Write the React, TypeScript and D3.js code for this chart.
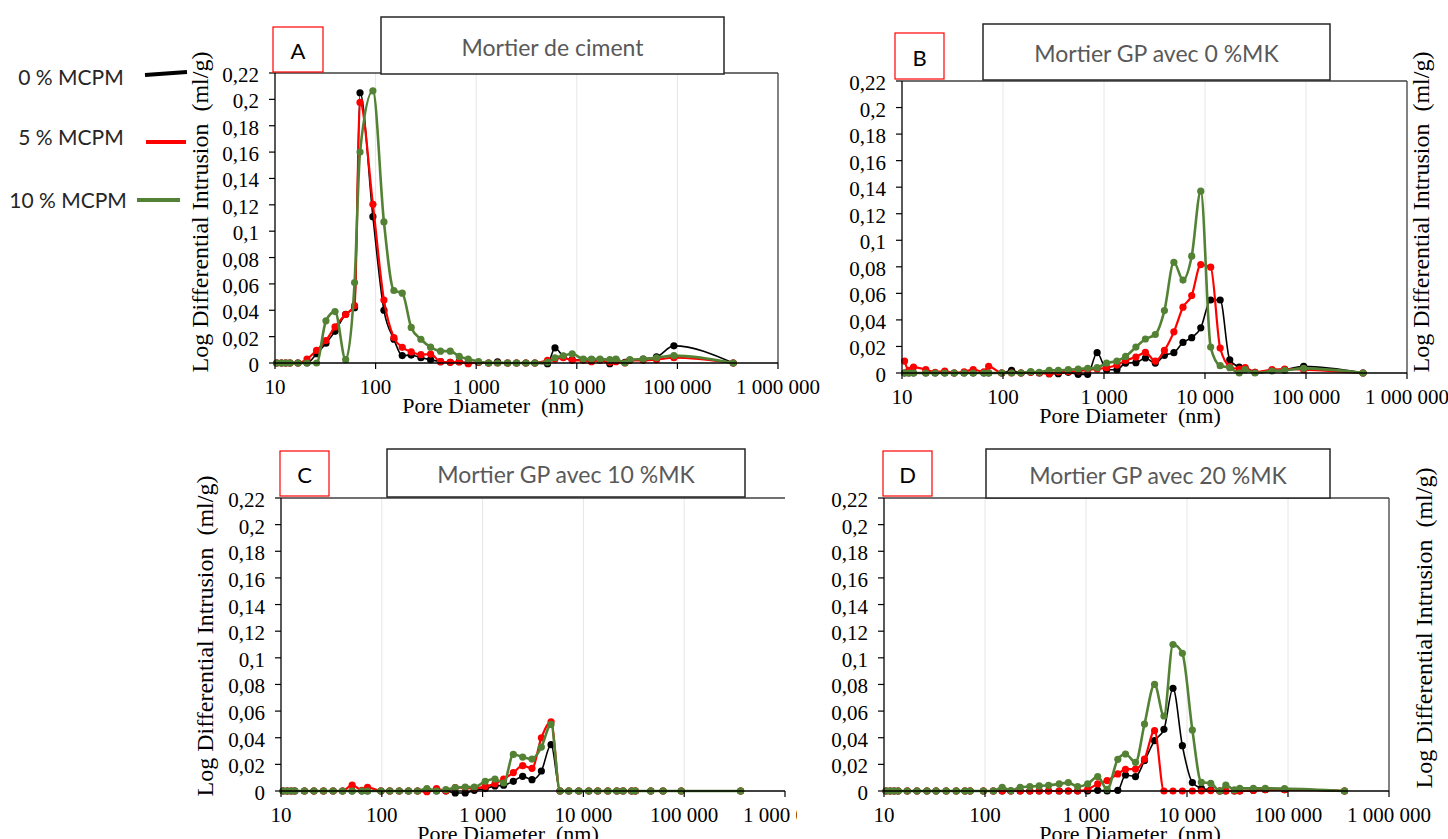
import React from "react";
import * as d3 from "d3";

// ---------- DATA ----------
const SERIES_NAMES = ["0 % MCPM", "5 % MCPM", "10 % MCPM"];
const SERIES_COLORS = ["#000000", "#ff0000", "#548235"];

const Y_TICKS = [0, 0.02, 0.04, 0.06, 0.08, 0.1, 0.12, 0.14, 0.16, 0.18, 0.2, 0.22];
const X_TICKS = [10, 100, 1000, 10000, 100000, 1000000];
const X_TICK_LABELS = ["10", "100", "1 000", "10 000", "100 000", "1 000 000"];

const PANEL_LETTERS = ["A", "B", "C", "D"];
const PANEL_TITLES = ["Mortier de ciment", "Mortier GP avec 0 %MK", "Mortier GP avec 10 %MK", "Mortier GP avec 20 %MK"];
const Y_TITLE = "Log Differential Intrusion  (ml/g)";
const X_TITLE = "Pore Diameter  (nm)";

// Panel A – Mortier de ciment
const A_DIAM = [10.4, 11.6, 12.8, 14.1, 16.9, 20.8, 25.9, 32.1, 39.5, 50.4, 61.8, 70, 94, 121, 152, 184, 226, 282, 352, 442, 552, 678, 833, 1055, 1327, 1630, 2048, 2517, 3114, 3828, 5117, 6070, 7340, 9000, 11600, 14000, 17000, 21300, 24500, 30100, 33700, 45700, 62000, 92300, 359000];
const A_0 = [0, 0, 0, 0, 0, 0, 0.007, 0.015, 0.024, 0.037, 0.042, 0.205, 0.111, 0.04, 0.018, 0.0056, 0.006, 0.004, 0.0025, 0.001, 0.0005, 0.001, 0, 0.0005, 0, 0.0008, 0, 0, 0, 0, -0.0005, 0.0114, 0.005, 0.0025, 0.0025, 0.0025, 0.0025, -0.0005, 0.0025, 0.0005, 0.002, 0.003, 0.0046, 0.013, 0];
const A_5 = [0, 0, 0, 0, 0, 0.003, 0.0096, 0.017, 0.0274, 0.0368, 0.0436, 0.1977, 0.1204, 0.0477, 0.0193, 0.0119, 0.0084, 0.0063, 0.0068, 0.001, 0.0005, 0.0008, -0.0005, 0.0005, 0, 0, 0, 0, 0, 0, 0.002, 0.003, 0.004, 0.002, 0.002, 0.001, 0.002, 0.0005, 0.001, 0, 0.002, 0.002, 0.0025, 0.004, 0];
const A_10 = [0, 0, 0, 0, 0, 0, 0, 0.032, 0.039, 0.0025, 0.061, 0.16, 0.2065, 0.107, 0.055, 0.053, 0.027, 0.018, 0.012, 0.009, 0.009, 0.005, 0.003, 0.001, 0, 0, 0, 0, 0, 0, 0.0005, 0.004, 0.0055, 0.007, 0.003, 0.003, 0.003, 0.0025, 0.003, 0, 0.0025, 0.003, 0.004, 0.0056, 0];

// Panel B – Mortier GP avec 0 %MK
const B_DIAM = [10.6, 11.7, 13.0, 17.2, 21.3, 26.5, 32.9, 41.2, 50.7, 64.7, 72.1, 97.1, 121.6, 151, 188, 229, 287, 353, 443, 555, 689, 855, 1062, 1343, 1637, 2070, 2570, 3220, 3964, 4920, 6055, 7384, 9080, 11380, 14130, 17580, 21830, 24950, 31260, 46100, 61500, 94800, 367000];
const B_0 = [0, 0, 0, 0, 0, 0, 0, 0, 0, 0, 0, 0, 0.002, 0, 0.0005, 0, -0.0005, -0.0005, 0.0005, -0.001, -0.001, 0.0153, 0.0025, 0.0025, 0.0075, 0.0078, 0.0113, 0.0075, 0.0133, 0.0153, 0.023, 0.0266, 0.034, 0.055, 0.055, 0.01, 0.0045, 0.0035, 0.0005, 0.002, 0.0025, 0.005, 0];
const B_5 = [0.009, 0.002, 0.0045, 0.0025, 0.0005, 0.0015, 0, 0.0008, 0.0025, 0.0008, 0.005, 0, 0, 0, 0.0005, 0, -0.0005, 0.0007, 0.001, 0.0015, 0.0025, 0.003, 0.004, 0.006, 0.0095, 0.012, 0.0155, 0.009, 0.017, 0.031, 0.0496, 0.0584, 0.0817, 0.0797, 0.0188, 0.005, 0.003, 0.004, 0.0005, 0.0025, 0.003, 0.0025, 0];
const B_10 = [0, 0, 0, 0, 0, 0, 0, 0, 0, 0, 0, 0, 0, 0, 0.001, 0.0005, 0.002, 0.002, 0.0025, 0.003, 0.0035, 0.004, 0.0075, 0.009, 0.0125, 0.0195, 0.0256, 0.029, 0.047, 0.0834, 0.07, 0.088, 0.137, 0.0195, 0.0055, 0.004, 0, 0.0025, 0, 0.0015, 0.002, 0.0035, 0];

// Panel C – Mortier GP avec 10 %MK
const C_DIAM = [10.5, 11.5, 12.6, 13.7, 17.1, 21.2, 26.4, 32.9, 40.8, 50.8, 63.4, 72.2, 98, 120, 149, 184, 226, 280, 349, 432, 535, 672, 827, 1062, 1326, 1618, 2018, 2497, 3090, 3828, 4776, 5865, 7150, 8990, 11300, 13880, 17450, 21430, 24800, 30100, 32800, 46600, 61700, 93500, 363000];
const C_0 = [0, 0, 0, 0, 0, 0, 0, 0, 0, 0, 0, 0, 0, 0, 0, 0, 0, 0, 0, 0, -0.0015, -0.0015, 0.0005, 0.0018, 0.0038, 0.0043, 0.0073, 0.011, 0.0085, 0.015, 0.0348, 0, 0, 0, 0, 0, 0, 0, 0, 0, 0, 0, 0, 0, 0];
const C_5 = [0, 0, 0, 0, 0, 0, 0, 0, 0, 0.0045, 0.0005, 0.0028, 0, 0, 0, 0, 0, -0.0005, 0.0018, 0, 0.0025, 0.0025, 0.0018, 0.0035, 0.0055, 0.009, 0.0138, 0.019, 0.017, 0.04, 0.052, 0, 0, 0, 0, 0, 0, 0, 0, 0, 0, 0, 0, 0, 0];
const C_10 = [0, 0, 0, 0, 0, 0, 0, 0, 0, 0, 0, 0, 0, 0, 0, 0, 0, 0.0018, 0, 0.001, 0.0025, 0.003, 0.003, 0.0073, 0.009, 0.006, 0.0275, 0.0255, 0.024, 0.033, 0.05, 0, 0, 0, 0, 0, 0, 0, 0, 0, 0, 0, 0, 0, 0];

// Panel D – Mortier GP avec 20 %MK
const D_DIAM = [10.5, 11.5, 12.6, 13.8, 17, 21.2, 26.6, 32.8, 41.3, 51.9, 63.4, 71.3, 96.4, 121, 148, 180, 223, 278, 344, 426, 543, 668, 826, 1039, 1306, 1618, 2065, 2461, 3090, 3795, 4773, 5912, 7266, 8995, 11300, 13880, 17180, 21120, 24230, 29500, 33300, 45400, 59600, 92500, 363000];
const D_0 = [0, 0, 0, 0, 0, 0, 0, 0, 0, 0, 0, 0, 0, 0, 0, 0, 0, 0, 0, 0, 0, 0, 0, 0, 0.0005, 0, 0.0005, 0.012, 0.0108, 0.0228, 0.0378, 0.0463, 0.0771, 0.034, 0.0063, 0.002, 0.0008, 0, 0, 0, 0, 0.0005, 0.001, 0.001, 0];
const D_5 = [0, 0, 0, 0, 0, 0, 0, 0, 0, 0, 0, 0, 0, 0, 0, 0, 0, 0, 0, 0, 0, 0, 0, 0.0013, 0.0053, 0.0078, 0.0128, 0.0163, 0.0165, 0.024, 0.0453, 0, 0, 0, 0, 0, 0.0003, 0, 0, 0, 0, 0.0005, 0.001, 0.001, 0];
const D_10 = [0, 0, 0, 0, 0, 0, 0, 0, 0, 0, 0, 0, 0, 0, 0.0028, 0.0003, 0.0028, 0.0033, 0.0038, 0.0043, 0.0053, 0.0063, 0.0033, 0.0053, 0.0108, 0.0013, 0.0238, 0.0278, 0.0215, 0.0503, 0.08, 0.0563, 0.11, 0.1034, 0.0458, 0.0065, 0.0058, 0, 0.0045, 0.0008, 0.002, 0.002, 0.002, 0.0018, 0];

// ---------- LAYOUT ----------
type Box = { x: number; y: number; w: number; h: number };
type Panel = {
  diam: number[];
  series: number[][];
  x0: number; x1: number; yTop: number; yBot: number;
  yTitleX: number; yTitleY: number; xTitleX: number;
  rightBorder: boolean;
  clipRight?: number;
  letterBox: Box; titleBox: Box;
  letter: string; title: string;
};

const PANELS: Panel[] = [
  { diam: A_DIAM, series: [A_0, A_5, A_10], x0: 275, x1: 778, yTop: 73, yBot: 363, yTitleX: 200, yTitleY: 212, xTitleX: 493, rightBorder: true,
    letterBox: { x: 273, y: 27, w: 50, h: 45 }, titleBox: { x: 381, y: 17, w: 343, h: 57 }, letter: PANEL_LETTERS[0], title: PANEL_TITLES[0] },
  { diam: B_DIAM, series: [B_0, B_5, B_10], x0: 902, x1: 1407, yTop: 81, yBot: 373, yTitleX: 1421, yTitleY: 212, xTitleX: 1130, rightBorder: true,
    letterBox: { x: 895, y: 33, w: 49, h: 46 }, titleBox: { x: 983, y: 24, w: 347, h: 56 }, letter: PANEL_LETTERS[1], title: PANEL_TITLES[1] },
  { diam: C_DIAM, series: [C_0, C_5, C_10], x0: 281, x1: 785, yTop: 498, yBot: 791, yTitleX: 205, yTitleY: 636, xTitleX: 508, rightBorder: false, clipRight: 797,
    letterBox: { x: 280, y: 451, w: 49, h: 45 }, titleBox: { x: 387, y: 449, w: 358, h: 48 }, letter: PANEL_LETTERS[2], title: PANEL_TITLES[2] },
  { diam: D_DIAM, series: [D_0, D_5, D_10], x0: 884, x1: 1389, yTop: 498, yBot: 791, yTitleX: 1424, yTitleY: 628, xTitleX: 1130, rightBorder: true,
    letterBox: { x: 883, y: 451, w: 49, h: 45 }, titleBox: { x: 986, y: 449, w: 344, h: 49 }, letter: PANEL_LETTERS[3], title: PANEL_TITLES[3] },
];

const SERIF = "'Liberation Serif', 'Times New Roman', serif";
const SANS = "Lato, 'Open Sans', sans-serif";

const fmtY = (v: number) => (Math.round(v * 100) / 100).toString().replace(".", ",");

function PanelView({ p, idx }: { p: Panel; idx: number }) {
  const x = d3.scaleLog().domain([10, 1000000]).range([p.x0, p.x1]);
  const y = d3.scaleLinear().domain([0, 0.22]).range([p.yBot, p.yTop]);
  const line = d3
    .line<[number, number]>()
    .x((d) => x(d[0]))
    .y((d) => y(d[1]))
    .curve(d3.curveMonotoneX);
  const clipId = `clip-${idx}`;
  const widths = [1.6, 2.2, 2.6];
  return (
    <g clipPath={p.clipRight ? `url(#${clipId})` : undefined}>
      {p.clipRight && (
        <defs>
          <clipPath id={clipId}>
            <rect x={0} y={0} width={p.clipRight} height={839} />
          </clipPath>
        </defs>
      )}
      {X_TICKS.slice(1, -1).map((t) => (
        <line key={t} x1={x(t)} x2={x(t)} y1={p.yTop} y2={p.yBot} stroke="#e6e6e6" strokeWidth={1} />
      ))}
      <line x1={p.x0} x2={p.x1} y1={p.yTop} y2={p.yTop} stroke="#404040" strokeWidth={1.3} />
      {p.rightBorder && <line x1={p.x1} x2={p.x1} y1={p.yTop} y2={p.yBot} stroke="#404040" strokeWidth={1.3} />}
      {p.series.map((vals, si) => {
        const pts: [number, number][] = p.diam.map((d, i) => [d, vals[i]]);
        return (
          <g key={si}>
            <path d={line(pts) || ""} fill="none" stroke={SERIES_COLORS[si]} strokeWidth={widths[si]} />
            {pts.map((d, i) => (
              <circle key={i} cx={x(d[0])} cy={y(d[1])} r={3.6} fill={SERIES_COLORS[si]} />
            ))}
          </g>
        );
      })}
      <line x1={p.x0} x2={p.x0} y1={p.yTop} y2={p.yBot} stroke="#000" strokeWidth={1.3} />
      <line x1={p.x0} x2={p.x1} y1={p.yBot} y2={p.yBot} stroke="#000" strokeWidth={1.3} />
      {Y_TICKS.map((t) => (
        <g key={t}>
          <line x1={p.x0 - 6} x2={p.x0} y1={y(t)} y2={y(t)} stroke="#000" strokeWidth={1.2} />
          <text x={p.x0 - 16} y={y(t) + 2} textAnchor="end" dominantBaseline="central" fontFamily={SERIF} fontSize={21} fill="#000">
            {fmtY(t)}
          </text>
        </g>
      ))}
      {X_TICKS.map((t, i) => (
        <g key={t}>
          <line x1={x(t)} x2={x(t)} y1={p.yBot} y2={p.yBot + 6} stroke="#000" strokeWidth={1.2} />
          <text x={x(t)} y={p.yBot + 24} textAnchor="middle" dominantBaseline="central" fontFamily={SERIF} fontSize={21} fill="#000" style={{ whiteSpace: "pre" }}>
            {X_TICK_LABELS[i]}
          </text>
        </g>
      ))}
      <text x={p.xTitleX} y={p.yBot + 42} textAnchor="middle" dominantBaseline="central" fontFamily={SERIF} fontSize={22} fill="#000" style={{ whiteSpace: "pre" }}>
        {X_TITLE}
      </text>
      <text
        transform={`translate(${p.yTitleX},${p.yTitleY}) rotate(-90)`}
        textAnchor="middle"
        dominantBaseline="central"
        fontFamily={SERIF}
        fontSize={24}
        fill="#000"
        style={{ whiteSpace: "pre" }}
      >
        {Y_TITLE}
      </text>
      <rect x={p.letterBox.x} y={p.letterBox.y} width={p.letterBox.w} height={p.letterBox.h} fill="#fff" stroke="#ff0000" strokeWidth={1.2} />
      <text x={p.letterBox.x + p.letterBox.w / 2} y={p.letterBox.y + p.letterBox.h / 2 + 1} textAnchor="middle" dominantBaseline="central" fontFamily={SANS} fontSize={22} fill="#000">
        {p.letter}
      </text>
      <rect x={p.titleBox.x} y={p.titleBox.y} width={p.titleBox.w} height={p.titleBox.h} fill="#fff" stroke="#262626" strokeWidth={1.5} />
      <text x={p.titleBox.x + p.titleBox.w / 2} y={p.titleBox.y + p.titleBox.h / 2 + 1} textAnchor="middle" dominantBaseline="central" fontFamily={SANS} fontSize={23} fill="#595959">
        {p.title}
      </text>
    </g>
  );
}

const LEGEND_TEXT_POS = [[71, 76], [71, 136], [68, 199]];
const LEGEND_LINES = [[145, 75, 187, 72], [146, 142, 186, 142], [137, 200, 180, 200]];

export default function App() {
  return (
    <svg width={1448} height={839} style={{ position: "absolute", left: 0, top: 0, background: "#fff" }}>
      <rect x={0} y={0} width={1448} height={839} fill="#fff" />
      {PANELS.map((p, i) => (
        <PanelView key={i} p={p} idx={i} />
      ))}
      {SERIES_NAMES.map((n, i) => (
        <g key={n}>
          <text x={LEGEND_TEXT_POS[i][0]} y={LEGEND_TEXT_POS[i][1]} textAnchor="middle" dominantBaseline="central" fontFamily={SANS} fontSize={21} fill="#262626">
            {n}
          </text>
          <line x1={LEGEND_LINES[i][0]} y1={LEGEND_LINES[i][1]} x2={LEGEND_LINES[i][2]} y2={LEGEND_LINES[i][3]} stroke={SERIES_COLORS[i]} strokeWidth={4} />
        </g>
      ))}
    </svg>
  );
}
